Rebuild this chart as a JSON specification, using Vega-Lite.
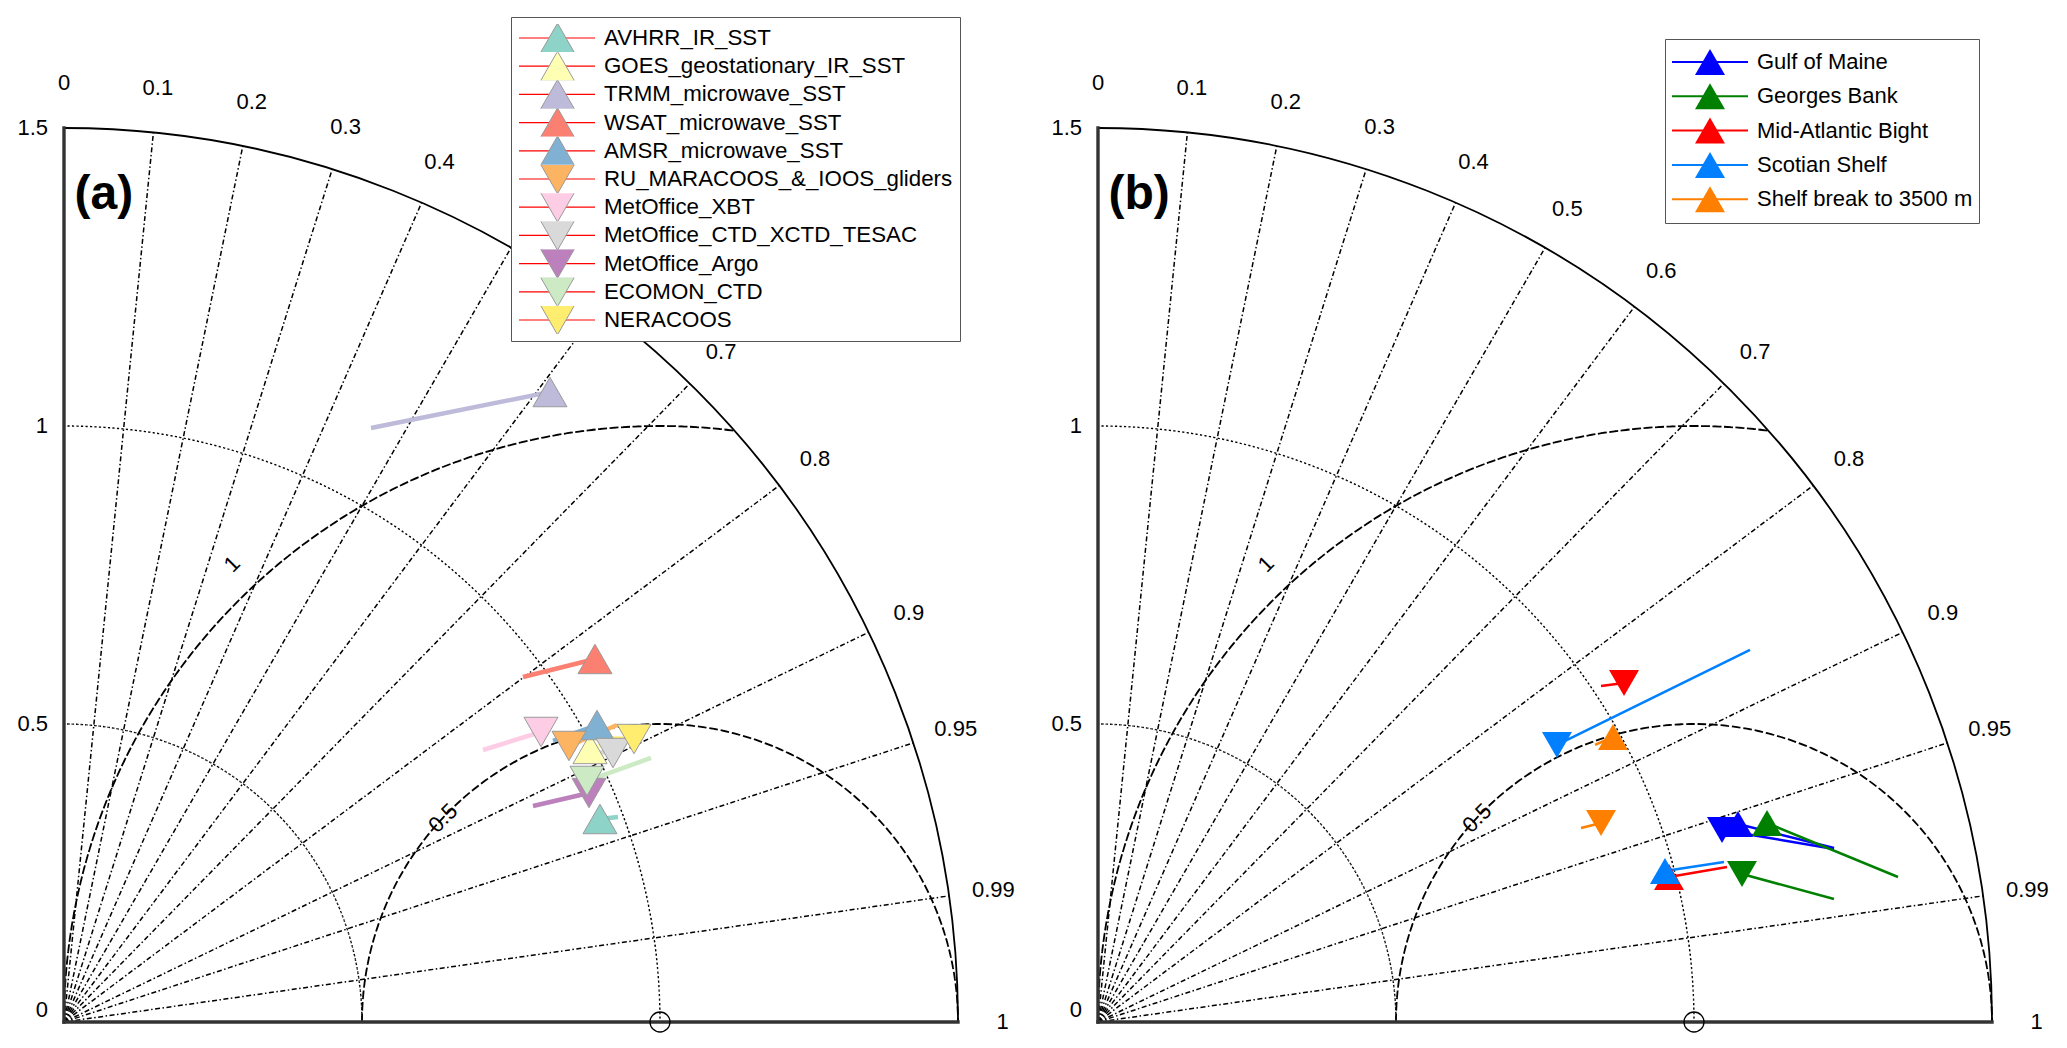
{
"$schema":"https://vega.github.io/schema/vega-lite/v6.json",
"padding":0,
"spacing":0,
"background":"white",
"config":{"view":{"stroke":null},"font":"Liberation Sans","legend":{"labelFont":"Liberation Sans"}},
"resolve":{"scale":{"x":"independent","y":"independent","color":"independent","fill":"independent","stroke":"independent","shape":"independent"}},
"datasets":{
 "arcs":[
  {"kind":"std","cx":0,"cy":0,"r":0.5,"a0":0,"a1":90},
  {"kind":"std","cx":0,"cy":0,"r":1,"a0":0,"a1":90},
  {"kind":"outer","cx":0,"cy":0,"r":1.5,"a0":0,"a1":90},
  {"kind":"rms","cx":1,"cy":0,"r":0.5,"a0":-90,"a1":90},
  {"kind":"rms","cx":1,"cy":0,"r":1,"a0":-90,"a1":7.18}
 ],
 "rays":[
  {"c":0.1,"x":0,"y":0,"ex":0.15,"ey":1.49248},
  {"c":0.2,"x":0,"y":0,"ex":0.3,"ey":1.46969},
  {"c":0.3,"x":0,"y":0,"ex":0.45,"ey":1.43091},
  {"c":0.4,"x":0,"y":0,"ex":0.6,"ey":1.37477},
  {"c":0.5,"x":0,"y":0,"ex":0.75,"ey":1.29904},
  {"c":0.6,"x":0,"y":0,"ex":0.9,"ey":1.2},
  {"c":0.7,"x":0,"y":0,"ex":1.05,"ey":1.07121},
  {"c":0.8,"x":0,"y":0,"ex":1.2,"ey":0.9},
  {"c":0.9,"x":0,"y":0,"ex":1.35,"ey":0.65383},
  {"c":0.95,"x":0,"y":0,"ex":1.425,"ey":0.46837},
  {"c":0.99,"x":0,"y":0,"ex":1.485,"ey":0.2116}
 ],
 "axlines":[{"x":0,"y":0,"ex":0,"ey":1.5},{"x":0,"y":0,"ex":1.5,"ey":0}],
 "ref":[{"x":1,"y":0}],
 "slab":[
  {"t":"1.5","x":-0.0268,"y":1.5},
  {"t":"1","x":-0.0268,"y":1.0},
  {"t":"0.5","x":-0.0268,"y":0.5},
  {"t":"0","x":-0.0268,"y":0.02}
 ],
 "clab":[
  {"t":"0","x":0,"y":1.575},
  {"t":"0.1","x":0.1575,"y":1.56711},
  {"t":"0.2","x":0.315,"y":1.54318},
  {"t":"0.3","x":0.4725,"y":1.50245},
  {"t":"0.4","x":0.63,"y":1.44352},
  {"t":"0.5","x":0.7875,"y":1.36399},
  {"t":"0.6","x":0.945,"y":1.26},
  {"t":"0.7","x":1.1025,"y":1.12477},
  {"t":"0.8","x":1.26,"y":0.945},
  {"t":"0.9","x":1.4175,"y":0.68653},
  {"t":"0.95","x":1.49625,"y":0.49179},
  {"t":"0.99","x":1.55925,"y":0.22219},
  {"t":"1","x":1.575,"y":0}
 ],
 "rlab":[{"t":"0.5","x":0.636,"y":0.342},{"t":"1","x":0.282,"y":0.768}],
 "apts":[
  {"name":"AVHRR_IR_SST","dir":"up","x":0.8993,"y":0.3406,"tx":0.9295,"ty":0.3440},
  {"name":"GOES_geostationary_IR_SST","dir":"up","x":0.8826,"y":0.4581,"tx":0.9279,"ty":0.4732},
  {"name":"TRMM_microwave_SST","dir":"up","x":0.8154,"y":1.0570,"tx":0.5151,"ty":0.9966},
  {"name":"WSAT_microwave_SST","dir":"up","x":0.8909,"y":0.6091,"tx":0.7701,"ty":0.5789},
  {"name":"AMSR_microwave_SST","dir":"up","x":0.8943,"y":0.4983,"tx":0.8205,"ty":0.4715},
  {"name":"RU_MARACOOS_&_IOOS_gliders","dir":"down","x":0.8473,"y":0.4631,"tx":0.9279,"ty":0.4983},
  {"name":"MetOffice_XBT","dir":"down","x":0.8003,"y":0.4866,"tx":0.7030,"ty":0.4564},
  {"name":"MetOffice_CTD_XCTD_TESAC","dir":"down","x":0.9211,"y":0.4513,"tx":0.8943,"ty":0.4530},
  {"name":"MetOffice_Argo","dir":"down","x":0.8809,"y":0.3842,"tx":0.7869,"ty":0.3624},
  {"name":"ECOMON_CTD","dir":"down","x":0.8775,"y":0.4044,"tx":0.9849,"ty":0.4430},
  {"name":"NERACOOS","dir":"down","x":0.9564,"y":0.4748,"tx":0.8876,"ty":0.4765}
 ],
 "bpts":[
  {"region":"Gulf of Maine","dir":"down","x":1.0470,"y":0.3221,"tx":1.2349,"ty":0.2903},
  {"region":"Gulf of Maine","dir":"up","x":1.0738,"y":0.3322,"tx":1.2349,"ty":0.2919},
  {"region":"Georges Bank","dir":"up","x":1.1225,"y":0.3339,"tx":1.3423,"ty":0.2433},
  {"region":"Georges Bank","dir":"down","x":1.0805,"y":0.2483,"tx":1.2349,"ty":0.2064},
  {"region":"Mid-Atlantic Bight","dir":"down","x":0.8826,"y":0.5688,"tx":0.8440,"ty":0.5638},
  {"region":"Mid-Atlantic Bight","dir":"up","x":0.9581,"y":0.2433,"tx":1.0554,"ty":0.2601},
  {"region":"Scotian Shelf","dir":"down","x":0.7701,"y":0.4648,"tx":1.0940,"ty":0.6242},
  {"region":"Scotian Shelf","dir":"up","x":0.9513,"y":0.2534,"tx":1.0503,"ty":0.2685},
  {"region":"Shelf break to 3500 m","dir":"up","x":0.8641,"y":0.4782,"tx":0.8339,"ty":0.4648},
  {"region":"Shelf break to 3500 m","dir":"down","x":0.8440,"y":0.3339,"tx":0.8104,"ty":0.3255}
 ]
},
"hconcat":[
 {
  "width":1034,"height":1048,
  "resolve":{"scale":{"fill":"independent"}},
  "layer":[
   {"data":{"name":"arcs"},"transform":[{"filter":{"field":"kind","equal":"std"}}],
    "mark":{"type":"arc","filled":false,"stroke":"black","strokeWidth":1.4,"strokeDash":[1.2,3.3]},
    "encoding":{
     "x":{"field":"cx","type":"quantitative","stack":null,"scale":{"domain":[-0.107383,1.627517],"nice":false,"zero":false},"axis":null},
     "y":{"field":"cy","type":"quantitative","stack":null,"scale":{"domain":[-0.043624,1.714765],"nice":false,"zero":false},"axis":null},
     "theta":{"field":"a0","type":"quantitative","stack":null,"scale":{"type":"linear","domain":[0,360],"range":[0,6.283185307179586],"zero":false,"nice":false}},
     "theta2":{"field":"a1"},
     "radius":{"field":"r","type":"quantitative","scale":{"type":"linear","domain":[0,1.5],"range":[0,894],"zero":true,"nice":false}},
     "radius2":{"field":"r"}}},
   {"data":{"name":"arcs"},"transform":[{"filter":{"field":"kind","equal":"outer"}}],
    "mark":{"type":"arc","filled":false,"stroke":"black","strokeWidth":1.8},
    "encoding":{
     "x":{"field":"cx","type":"quantitative","stack":null,"axis":null},
     "y":{"field":"cy","type":"quantitative","stack":null,"axis":null},
     "theta":{"field":"a0","type":"quantitative","stack":null},
     "theta2":{"field":"a1"},
     "radius":{"field":"r","type":"quantitative"},
     "radius2":{"field":"r"}}},
   {"data":{"name":"arcs"},"transform":[{"filter":{"field":"kind","equal":"rms"}}],
    "mark":{"type":"arc","filled":false,"stroke":"black","strokeWidth":1.8,"strokeDash":[7,4.5]},
    "encoding":{
     "x":{"field":"cx","type":"quantitative","stack":null,"axis":null},
     "y":{"field":"cy","type":"quantitative","stack":null,"axis":null},
     "theta":{"field":"a0","type":"quantitative","stack":null},
     "theta2":{"field":"a1"},
     "radius":{"field":"r","type":"quantitative"},
     "radius2":{"field":"r"}}},
   {"data":{"name":"rays"},
    "mark":{"type":"rule","stroke":"black","strokeWidth":1.5,"strokeDash":[5,2.5,1.5,2.5]},
    "encoding":{
     "x":{"field":"x","type":"quantitative","axis":null},
     "y":{"field":"y","type":"quantitative","axis":null},
     "x2":{"field":"ex"},"y2":{"field":"ey"}}},
   {"data":{"name":"axlines"},
    "mark":{"type":"rule","stroke":"#333333","strokeWidth":3.4,"strokeCap":"square"},
    "encoding":{
     "x":{"field":"x","type":"quantitative","axis":null},
     "y":{"field":"y","type":"quantitative","axis":null},
     "x2":{"field":"ex"},"y2":{"field":"ey"}}},
   {"data":{"name":"ref"},
    "mark":{"type":"point","shape":"circle","filled":false,"stroke":"black","strokeWidth":1.3,"size":400,"opacity":1},
    "encoding":{
     "x":{"field":"x","type":"quantitative","axis":null},
     "y":{"field":"y","type":"quantitative","axis":null}}},
   {"data":{"name":"slab"},
    "mark":{"type":"text","fontSize":22,"color":"black","align":"right","baseline":"middle"},
    "encoding":{
     "x":{"field":"x","type":"quantitative","axis":null},
     "y":{"field":"y","type":"quantitative","axis":null},
     "text":{"field":"t"}}},
   {"data":{"name":"clab"},"transform":[{"filter":{"not":{"field":"t","oneOf":["0.5","0.6"]}}}],
    "mark":{"type":"text","fontSize":22,"color":"black","align":"center","baseline":"middle"},
    "encoding":{
     "x":{"field":"x","type":"quantitative","axis":null},
     "y":{"field":"y","type":"quantitative","axis":null},
     "text":{"field":"t"}}},
   {"data":{"name":"rlab"},
    "mark":{"type":"text","fontSize":22,"color":"black","align":"center","baseline":"middle","angle":315},
    "encoding":{
     "x":{"field":"x","type":"quantitative","axis":null},
     "y":{"field":"y","type":"quantitative","axis":null},
     "text":{"field":"t"}}},
   {"data":{"values":[{"t":"(a)","x":0.067,"y":1.388}]},
    "mark":{"type":"text","fontSize":48,"fontWeight":"bold","color":"black","align":"center","baseline":"middle"},
    "encoding":{
     "x":{"field":"x","type":"quantitative","axis":null},
     "y":{"field":"y","type":"quantitative","axis":null},
     "text":{"field":"t"}}},
   {"data":{"name":"apts"},
    "mark":{"type":"rule","strokeWidth":4.5},
    "encoding":{
     "x":{"field":"x","type":"quantitative","axis":null},
     "y":{"field":"y","type":"quantitative","axis":null},
     "x2":{"field":"tx"},"y2":{"field":"ty"},
     "stroke":{"field":"name","type":"nominal","legend":null,
      "scale":{"domain":["AVHRR_IR_SST","GOES_geostationary_IR_SST","TRMM_microwave_SST","WSAT_microwave_SST","AMSR_microwave_SST","RU_MARACOOS_&_IOOS_gliders","MetOffice_XBT","MetOffice_CTD_XCTD_TESAC","MetOffice_Argo","ECOMON_CTD","NERACOOS"],
       "range":["#8DD3C7","#FFFFB3","#BEBADA","#FB8072","#80B1D3","#FDB462","#FCCDE5","#D9D9D9","#BC80BD","#CCEBC5","#FFED6F"]}}}},
   {"data":{"name":"apts"},
    "mark":{"type":"rule","strokeWidth":1.2},
    "encoding":{
     "x":{"field":"x","type":"quantitative","axis":null},
     "y":{"field":"y","type":"quantitative","axis":null},
     "x2":{"field":"x"},"y2":{"field":"y"},
     "color":{"field":"name","type":"nominal","sort":null,
      "scale":{"range":["#FF0000","#FF0000","#FF0000","#FF0000","#FF0000","#FF0000","#FF0000","#FF0000","#FF0000","#FF0000","#FF0000"]},
      "legend":{"title":null,"orient":"none","legendX":511,"legendY":17,"padding":7,"fillColor":"white","strokeColor":"#555555","symbolType":"stroke","symbolSize":5776,"symbolStrokeWidth":1.2,"labelFontSize":22.3,"labelColor":"black","labelOffset":8,"labelLimit":600,"clipHeight":28,"rowPadding":0.2}}}},
   {"data":{"name":"apts"},"transform":[{"filter":{"field":"dir","equal":"up"}}],
    "mark":{"type":"point","shape":"triangle-up","filled":true,"stroke":"#999999","strokeWidth":1,"size":1156,"opacity":1},
    "encoding":{
     "x":{"field":"x","type":"quantitative","axis":null},
     "y":{"field":"y","type":"quantitative","axis":null},
     "fill":{"field":"name","type":"nominal",
      "scale":{"domain":["AVHRR_IR_SST","GOES_geostationary_IR_SST","TRMM_microwave_SST","WSAT_microwave_SST","AMSR_microwave_SST"],
       "range":["#8DD3C7","#FFFFB3","#BEBADA","#FB8072","#80B1D3"]},
      "legend":{"title":null,"orient":"none","legendX":533,"legendY":17,"padding":7,"symbolType":"triangle-up","symbolSize":1156,"symbolStrokeColor":"#999999","symbolStrokeWidth":1,"labelFontSize":22.3,"labelExpr":"''","labelOffset":8,"labelLimit":600,"clipHeight":28,"rowPadding":0.2}}}},
   {"data":{"name":"apts"},"transform":[{"filter":{"field":"dir","equal":"down"}}],
    "mark":{"type":"point","shape":"triangle-down","filled":true,"stroke":"#999999","strokeWidth":1,"size":1156,"opacity":1},
    "encoding":{
     "x":{"field":"x","type":"quantitative","axis":null},
     "y":{"field":"y","type":"quantitative","axis":null},
     "fill":{"field":"name","type":"nominal",
      "scale":{"domain":["RU_MARACOOS_&_IOOS_gliders","MetOffice_XBT","MetOffice_CTD_XCTD_TESAC","MetOffice_Argo","ECOMON_CTD","NERACOOS"],
       "range":["#FDB462","#FCCDE5","#D9D9D9","#BC80BD","#CCEBC5","#FFED6F"]},
      "legend":{"title":null,"orient":"none","legendX":533,"legendY":158,"padding":7,"symbolType":"triangle-down","symbolSize":1156,"symbolStrokeColor":"#999999","symbolStrokeWidth":1,"labelFontSize":22.3,"labelExpr":"''","labelOffset":8,"labelLimit":600,"clipHeight":28,"rowPadding":0.2}}}}
  ]
 },
 {
  "width":1033,"height":1048,
  "layer":[
   {"data":{"name":"arcs"},"transform":[{"filter":{"field":"kind","equal":"std"}}],
    "mark":{"type":"arc","filled":false,"stroke":"black","strokeWidth":1.4,"strokeDash":[1.2,3.3]},
    "encoding":{
     "x":{"field":"cx","type":"quantitative","stack":null,"scale":{"domain":[-0.107383,1.625839],"nice":false,"zero":false},"axis":null},
     "y":{"field":"cy","type":"quantitative","stack":null,"scale":{"domain":[-0.043624,1.714765],"nice":false,"zero":false},"axis":null},
     "theta":{"field":"a0","type":"quantitative","stack":null,"scale":{"type":"linear","domain":[0,360],"range":[0,6.283185307179586],"zero":false,"nice":false}},
     "theta2":{"field":"a1"},
     "radius":{"field":"r","type":"quantitative","scale":{"type":"linear","domain":[0,1.5],"range":[0,894],"zero":true,"nice":false}},
     "radius2":{"field":"r"}}},
   {"data":{"name":"arcs"},"transform":[{"filter":{"field":"kind","equal":"outer"}}],
    "mark":{"type":"arc","filled":false,"stroke":"black","strokeWidth":1.8},
    "encoding":{
     "x":{"field":"cx","type":"quantitative","stack":null,"axis":null},
     "y":{"field":"cy","type":"quantitative","stack":null,"axis":null},
     "theta":{"field":"a0","type":"quantitative","stack":null},
     "theta2":{"field":"a1"},
     "radius":{"field":"r","type":"quantitative"},
     "radius2":{"field":"r"}}},
   {"data":{"name":"arcs"},"transform":[{"filter":{"field":"kind","equal":"rms"}}],
    "mark":{"type":"arc","filled":false,"stroke":"black","strokeWidth":1.8,"strokeDash":[7,4.5]},
    "encoding":{
     "x":{"field":"cx","type":"quantitative","stack":null,"axis":null},
     "y":{"field":"cy","type":"quantitative","stack":null,"axis":null},
     "theta":{"field":"a0","type":"quantitative","stack":null},
     "theta2":{"field":"a1"},
     "radius":{"field":"r","type":"quantitative"},
     "radius2":{"field":"r"}}},
   {"data":{"name":"rays"},
    "mark":{"type":"rule","stroke":"black","strokeWidth":1.5,"strokeDash":[5,2.5,1.5,2.5]},
    "encoding":{
     "x":{"field":"x","type":"quantitative","axis":null},
     "y":{"field":"y","type":"quantitative","axis":null},
     "x2":{"field":"ex"},"y2":{"field":"ey"}}},
   {"data":{"name":"axlines"},
    "mark":{"type":"rule","stroke":"#333333","strokeWidth":3.4,"strokeCap":"square"},
    "encoding":{
     "x":{"field":"x","type":"quantitative","axis":null},
     "y":{"field":"y","type":"quantitative","axis":null},
     "x2":{"field":"ex"},"y2":{"field":"ey"}}},
   {"data":{"name":"ref"},
    "mark":{"type":"point","shape":"circle","filled":false,"stroke":"black","strokeWidth":1.3,"size":400,"opacity":1},
    "encoding":{
     "x":{"field":"x","type":"quantitative","axis":null},
     "y":{"field":"y","type":"quantitative","axis":null}}},
   {"data":{"name":"slab"},
    "mark":{"type":"text","fontSize":22,"color":"black","align":"right","baseline":"middle"},
    "encoding":{
     "x":{"field":"x","type":"quantitative","axis":null},
     "y":{"field":"y","type":"quantitative","axis":null},
     "text":{"field":"t"}}},
   {"data":{"name":"clab"},
    "mark":{"type":"text","fontSize":22,"color":"black","align":"center","baseline":"middle"},
    "encoding":{
     "x":{"field":"x","type":"quantitative","axis":null},
     "y":{"field":"y","type":"quantitative","axis":null},
     "text":{"field":"t"}}},
   {"data":{"name":"rlab"},
    "mark":{"type":"text","fontSize":22,"color":"black","align":"center","baseline":"middle","angle":315},
    "encoding":{
     "x":{"field":"x","type":"quantitative","axis":null},
     "y":{"field":"y","type":"quantitative","axis":null},
     "text":{"field":"t"}}},
   {"data":{"values":[{"t":"(b)","x":0.069,"y":1.388}]},
    "mark":{"type":"text","fontSize":48,"fontWeight":"bold","color":"black","align":"center","baseline":"middle"},
    "encoding":{
     "x":{"field":"x","type":"quantitative","axis":null},
     "y":{"field":"y","type":"quantitative","axis":null},
     "text":{"field":"t"}}},
   {"data":{"name":"bpts"},
    "mark":{"type":"rule","strokeWidth":2.5},
    "encoding":{
     "x":{"field":"x","type":"quantitative","axis":null},
     "y":{"field":"y","type":"quantitative","axis":null},
     "x2":{"field":"tx"},"y2":{"field":"ty"},
     "color":{"field":"region","type":"nominal","sort":null,
      "scale":{"range":["#0000FF","#008000","#FF0000","#0080FF","#FF8000"]},
      "legend":{"title":null,"orient":"none","legendX":631,"legendY":39,"padding":6,"fillColor":"white","strokeColor":"#555555","symbolType":"stroke","symbolSize":5776,"symbolStrokeWidth":2,"labelFontSize":22,"labelColor":"black","labelOffset":8,"labelLimit":600,"clipHeight":34,"rowPadding":0.3}}}},
   {"data":{"name":"bpts"},
    "mark":{"type":"point","filled":true,"strokeWidth":0,"size":900,"opacity":1},
    "encoding":{
     "x":{"field":"x","type":"quantitative","axis":null},
     "y":{"field":"y","type":"quantitative","axis":null},
     "fill":{"field":"region","type":"nominal",
      "scale":{"domain":["Gulf of Maine","Georges Bank","Mid-Atlantic Bight","Scotian Shelf","Shelf break to 3500 m"],"range":["#0000FF","#008000","#FF0000","#0080FF","#FF8000"]},
      "legend":{"title":null,"orient":"none","legendX":655,"legendY":39,"padding":6,"symbolType":"triangle-up","symbolSize":900,"symbolStrokeWidth":0,"labelFontSize":22,"labelExpr":"''","labelOffset":8,"labelLimit":600,"clipHeight":34,"rowPadding":0.3}},
     "shape":{"field":"dir","type":"nominal","legend":null,
      "scale":{"domain":["up","down"],"range":["triangle-up","triangle-down"]}}}}
  ]
 }
]
}
